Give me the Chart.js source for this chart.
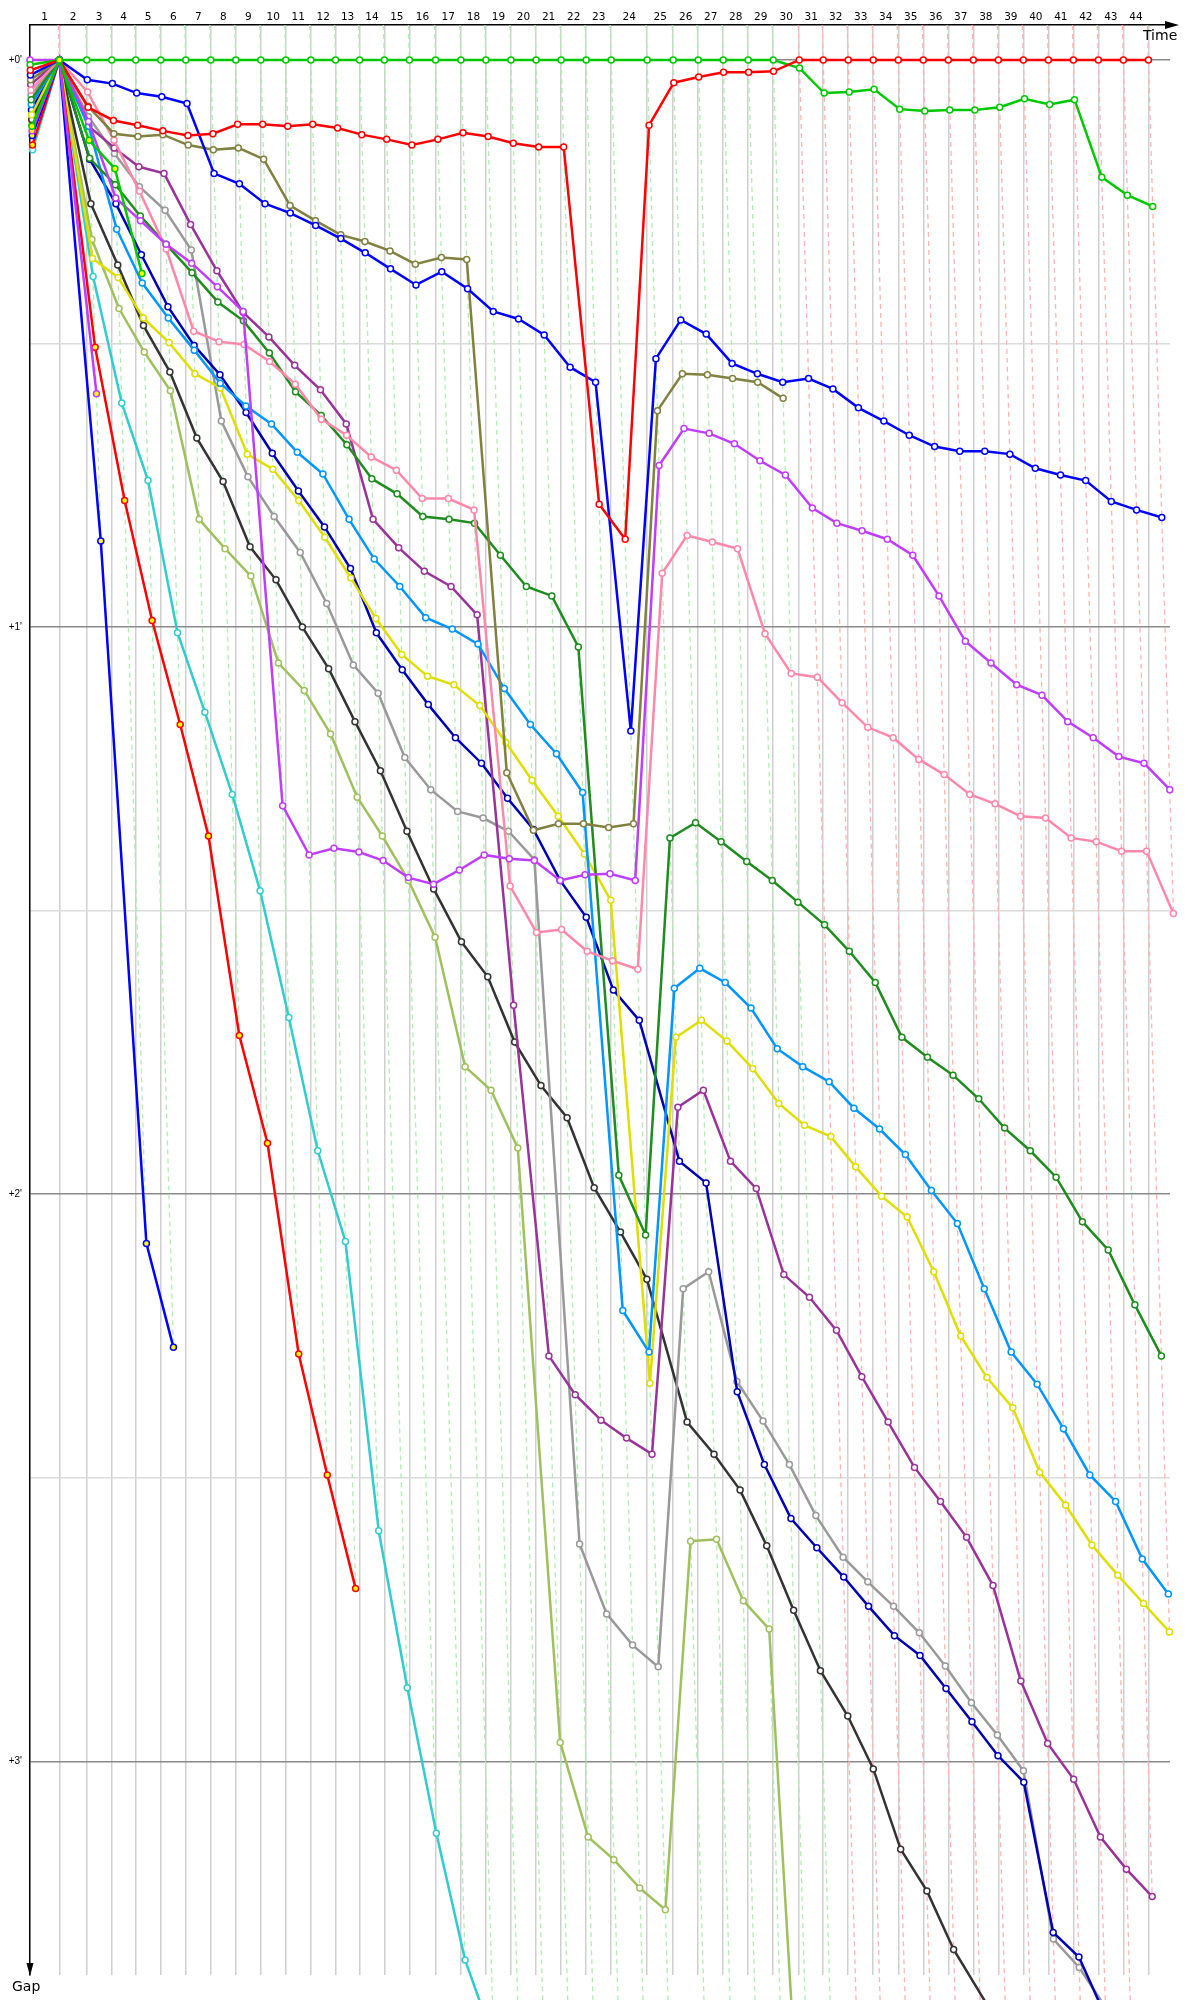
<!DOCTYPE html>
<html lang="en">

<head>
    <meta charset="UTF-8">
    <title>Gap chart</title>
    <script src="https://cdn.jsdelivr.net/npm/chart.js"></script>
    <style>
        body {
            margin: 0;
            background: #fff;
        }

        #chart {
            display: block;
        }
    </style>
</head>

<body>
    <canvas id="chart" width="1200" height="2000"></canvas>
    <script>
        // leader lap times in seconds (lap 1 .. 44)
        const leaderLapTimes = [105.8, 98.9, 90.3, 86.6, 90.3, 90.3, 90.3, 90.3, 90.3, 90.3,
            90.3, 89.5, 86.6, 89.5, 90.3, 94.6, 91.3, 90.3, 90.3, 91.0,
            90.3, 90.3, 90.3, 130.0, 93.9, 90.3, 90.3, 90.3, 90.3, 93.9,
            86.6, 90.3, 90.3, 90.3, 90.3, 90.3, 90.3, 90.3, 90.3, 90.3,
            90.3, 90.3, 90.3, 90.3];

        const lapLabels = ['1', '2', '3', '4', '5', '6', '7', '8', '9', '10', '11', '12', '13', '14', '15',
            '16', '17', '18', '19', '20', '21', '22', '23', '24', '25', '26', '27', '28', '29', '30',
            '31', '32', '33', '34', '35', '36', '37', '38', '39', '40', '41', '42', '43', '44'];

        // who led each lap (colour of the lap line)
        const lapLeader = ['red', 'green', 'green', 'green', 'green', 'green', 'green', 'green', 'green', 'green',
            'green', 'green', 'green', 'green', 'green', 'green', 'green', 'green', 'green', 'green',
            'green', 'green', 'green', 'green', 'green', 'green', 'green', 'green', 'green', 'red',
            'red', 'red', 'red', 'red', 'red', 'red', 'red', 'red', 'red', 'red',
            'red', 'red', 'red', 'red'];

        const gapTicks = [0, 30, 60, 90, 120, 150, 180];
        const gapLabels = ["+0'", '', "+1'", '', "+2'", '', "+3'"];

        // gap to leader in seconds, index 0 = start grid, index n = end of lap n
        const gapLime = [0.5, 0, 0, 0, 0, 0, 0, 0, 0, 0, 0, 0, 0, 0, 0, 0, 0, 0, 0, 0, 0, 0, 0, 0, 0, 0, 0, 0, 0, 0,
            0.85, 3.5, 3.4, 3.1, 5.2, 5.4, 5.3, 5.3, 5.0, 4.1, 4.7, 4.2, 12.4, 14.3, 15.5];
        const gapRed = [1.1, 0, 5.0, 6.4, 6.9, 7.5, 8.0, 7.8, 6.8, 6.8, 7.0,
            6.8, 7.2, 7.9, 8.4, 9.0, 8.4, 7.7, 8.1, 8.8, 9.2,
            9.2, 47.0, 50.7, 6.9, 2.4, 1.8, 1.3, 1.3, 1.2, 0,
            0, 0, 0, 0, 0, 0, 0, 0, 0, 0, 0, 0, 0, 0];
        const gapBlue = [1.6, 0, 2.1, 2.5, 3.5, 3.9, 4.6, 12.0, 13.1, 15.2, 16.2,
            17.5, 18.9, 20.4, 22.1, 23.8, 22.4, 24.2, 26.6, 27.4, 29.1,
            32.5, 34.1, 71.0, 31.6, 27.5, 29.0, 32.1, 33.2, 34.1, 33.7,
            34.8, 36.8, 38.2, 39.7, 40.9, 41.4, 41.4, 41.7, 43.2, 43.9,
            44.5, 46.7, 47.6, 48.4];
        const gapOlive = [2.1, 0, 4.9, 7.8, 8.1, 7.9, 9.0, 9.5, 9.3, 10.5, 15.4,
            17.0, 18.5, 19.2, 20.2, 21.6, 20.9, 21.1, 75.4, 81.5, 80.8,
            80.8, 81.2, 80.8, 37.1, 33.2, 33.3, 33.7, 34.1, 35.8];
        const gapViolet = [0.0, 0, 6.5, 14.6, 17.0, 19.5, 21.5, 24.0, 26.6, 78.9, 84.1,
            83.4, 83.8, 84.7, 86.5, 87.2, 85.7, 84.1, 84.5, 84.7, 86.8,
            86.2, 86.1, 86.8, 42.9, 39.0, 39.5, 40.6, 42.4, 43.9, 47.4,
            49.0, 49.8, 50.7, 52.4, 56.7, 61.5, 63.8, 66.1, 67.2, 70.0,
            71.7, 73.7, 74.4, 77.2];
        const gapPink = [3.2, 0, 3.4, 8.5, 13.9, 20.0, 28.7, 29.8, 30.1, 31.9, 34.3,
            38.0, 39.7, 42.0, 43.4, 46.4, 46.4, 47.6, 87.4, 92.3, 92.0,
            94.3, 95.3, 96.2, 54.3, 50.3, 51.0, 51.7, 60.7, 64.9, 65.3,
            68.0, 70.6, 71.7, 74.0, 75.6, 77.7, 78.7, 80.0, 80.2, 82.3,
            82.7, 83.7, 83.7, 90.3];
        const gapDarkGreen = [4.2, 0, 10.4, 13.2, 16.5, 19.5, 22.5, 25.6, 27.6, 31.0, 35.1,
            37.6, 40.7, 44.3, 45.9, 48.3, 48.6, 49.0, 52.4, 55.7, 56.7,
            62.1, 118.0, 124.3, 82.3, 80.7, 82.7, 84.8, 86.8, 89.1, 91.5,
            94.3, 97.6, 103.4, 105.5, 107.4, 109.9, 113.0, 115.4, 118.2, 122.9,
            125.9, 131.7, 137.1];
        const gapSky = [4.7, 0, 7.0, 17.9, 23.6, 27.3, 30.7, 34.2, 36.6, 38.5, 41.5,
            43.8, 48.6, 52.8, 55.7, 59.0, 60.2, 61.8, 66.5, 70.3, 73.4,
            77.5, 132.3, 136.7, 98.2, 96.1, 97.6, 100.3, 104.6, 106.5, 108.1,
            110.9, 113.1, 115.8, 119.6, 123.1, 130.0, 136.7, 140.1, 144.8, 149.7,
            152.5, 158.6, 162.3];
        const gapYellow = [5.8, 0, 21.0, 23.0, 27.3, 29.9, 33.2, 34.7, 41.7, 43.3, 46.6,
            50.5, 54.8, 59.1, 62.9, 65.2, 66.1, 68.3, 72.2, 76.2, 80.0,
            84.0, 88.9, 140.0, 103.4, 101.6, 103.8, 106.7, 110.4, 112.7, 113.9,
            117.1, 120.2, 122.4, 128.2, 135.0, 139.4, 142.6, 149.4, 152.9, 157.1,
            160.3, 163.3, 166.3];
        const gapPurple = [2.6, 0, 7.0, 9.3, 11.3, 12.0, 17.4, 22.3, 26.7, 29.3, 32.3,
            34.9, 38.5, 48.6, 51.6, 54.1, 55.7, 58.7, 100.0, 137.1, 141.2,
            143.9, 145.8, 147.5, 110.8, 109.0, 116.5, 119.4, 128.5, 130.9, 134.4,
            139.3, 144.1, 148.9, 152.5, 156.3, 161.4, 171.5, 178.1, 181.9, 188.0,
            191.4, 194.3];
        const gapNavy = [5.3, 0, 10.5, 15.2, 20.6, 26.1, 30.2, 33.3, 37.3, 41.6, 45.6,
            49.4, 53.8, 60.6, 64.5, 68.2, 71.7, 74.4, 78.1, 81.4, 86.8,
            90.7, 98.4, 101.6, 116.5, 118.8, 140.9, 148.6, 154.3, 157.4, 160.5,
            163.6, 166.7, 168.8, 172.3, 175.8, 179.4, 182.2, 198.1, 200.7, 207.0,
            212.0];
        const gapGrey = [3.7, 0, 6.0, 9.9, 13.4, 15.9, 20.1, 38.2, 44.1, 48.3, 52.1,
            57.5, 64.0, 67.0, 73.8, 77.2, 79.5, 80.2, 81.6, 84.6, 157.0,
            164.4, 167.7, 170.0, 130.0, 128.2, 139.8, 144.0, 148.6, 154.0, 158.4,
            161.0, 163.6, 166.4, 169.9, 173.8, 177.2, 181.0, 198.8, 201.8, 206.0];
        const gapBlack = [6.3, 0, 15.2, 21.7, 28.1, 33.0, 40.0, 44.6, 51.5, 55.0, 60.0,
            64.4, 70.0, 75.2, 81.6, 87.7, 93.3, 97.0, 103.9, 108.5, 111.9,
            119.3, 124.0, 129.0, 144.1, 147.5, 151.3, 157.2, 164.0, 170.4, 175.2,
            180.8, 189.3, 193.7, 199.9, 204.5, 209.0];
        const gapOliveGreen = [6.8, 0, 19.0, 26.3, 30.9, 35.0, 48.6, 51.7, 54.6, 63.8, 66.7,
            71.3, 78.0, 82.1, 86.8, 92.8, 106.5, 109.0, 115.1, 178.0, 188.0,
            190.4, 193.4, 195.7, 156.7, 156.5, 163.0, 166.0, 254.0, 262.0, 270.0,
            278.0, 285.0, 292.0, 300.0, 307.0, 314.0, 321.0, 328.0, 335.0, 342.0,
            349.0];
        const gapCyan = [9.5, 0, 22.9, 36.3, 44.5, 60.6, 69.0, 77.7, 87.9, 101.3, 115.4,
            125.0, 155.6, 172.2, 187.6, 201.0, 209.5, 222.0, 235.0, 248.0, 261.0,
            274.0, 287.0, 300.0, 313.0, 326.0, 339.0, 352.0];
        // retired cars
        const gapRedOut = [9.0, 0, 30.4, 46.6, 59.3, 70.3, 82.1, 103.2, 114.6, 136.9, 149.7, 161.7];
        const gapBlueOut = [8.0, 0, 50.9, 125.2, 136.2];
        const gapVioletOut = [7.5, 0, 35.3];
        const gapLimeOut = [7.0, 0, 8.5, 11.5, 22.6];

        const series = [
            { gaps: gapLimeOut, color: '#00c800', out: true },
            { gaps: gapVioletOut, color: '#c03cff', out: true },
            { gaps: gapBlueOut, color: '#0000ff', out: true },
            { gaps: gapRedOut, color: '#ff0000', out: true },
            { gaps: gapRed, color: '#ff0000' },
            { gaps: gapLime, color: '#00c800' },
            { gaps: gapBlue, color: '#0000ff' },
            { gaps: gapOlive, color: '#808040' },
            { gaps: gapViolet, color: '#c03cff' },
            { gaps: gapPink, color: '#ff88aa' },
            { gaps: gapDarkGreen, color: '#1e8c1e' },
            { gaps: gapSky, color: '#0096ff' },
            { gaps: gapYellow, color: '#dede00' },
            { gaps: gapPurple, color: '#993399' },
            { gaps: gapNavy, color: '#0000b4' },
            { gaps: gapGrey, color: '#999999' },
            { gaps: gapBlack, color: '#333333' },
            { gaps: gapOliveGreen, color: '#a0c060' },
            { gaps: gapCyan, color: '#33cccc' }
        ];

        const GAP_MIN = -3.7;
        const GAP_MAX = 202.6;
        const TIME_MAX = 4115.5;

        // leader time at end of every lap
        const lapEnd = [0];
        leaderLapTimes.forEach((t, i) => lapEnd.push(lapEnd[i] + t));

        // x = time the car crossed the line, y = its gap
        function toPoints(gaps) {
            return gaps.map((g, i) => ({ x: lapEnd[i] + g, y: g }));
        }

        const datasets = [];
        series.forEach(s => {
            datasets.push({
                data: toPoints(s.gaps),
                borderColor: s.color,
                borderWidth: 2.5,
                pointRadius: 3,
                pointBorderWidth: 1.5,
                pointBorderColor: s.color,
                pointBackgroundColor: s.out ? '#ffff00' : '#ffffff',
                showLine: true,
                clip: false,
                order: 1
            });
        });

        // dashed lap lines, from the axis down to the last car of that lap
        for (let n = 1; n <= leaderLapTimes.length; n++) {
            let worst = 0;
            series.forEach(s => {
                if (s.gaps.length > n && s.gaps[n] > worst) worst = s.gaps[n];
            });
            datasets.push({
                data: [{ x: lapEnd[n] + GAP_MIN, y: GAP_MIN }, { x: lapEnd[n] + worst, y: worst }],
                borderColor: lapLeader[n - 1] === 'red' ? '#ffb4b4' : '#b4ecb4',
                borderWidth: 1.3,
                borderDash: [5, 4],
                pointRadius: 0,
                showLine: true,
                clip: false,
                order: 50
            });
        }

        // ticks on the time axis: label in the middle of a lap, grid line at its end
        const timeTicks = [];
        for (let n = 1; n <= leaderLapTimes.length; n++) {
            timeTicks.push((lapEnd[n - 1] + lapEnd[n]) / 2);
            timeTicks.push(lapEnd[n]);
        }

        const arrows = {
            id: 'arrows',
            afterDraw(chart) {
                const ctx = chart.ctx;
                const a = chart.chartArea;
                ctx.save();
                ctx.fillStyle = '#000';
                ctx.strokeStyle = '#000';
                ctx.lineWidth = 1.5;
                ctx.beginPath();
                ctx.moveTo(a.right - 1, a.top);
                ctx.lineTo(a.right + 2, a.top);
                ctx.stroke();
                ctx.beginPath();
                ctx.moveTo(a.right - 5, a.top - 4);
                ctx.lineTo(a.right + 9, a.top);
                ctx.lineTo(a.right - 5, a.top + 4);
                ctx.closePath();
                ctx.fill();
                ctx.beginPath();
                ctx.moveTo(a.left - 3.5, a.bottom - 12);
                ctx.lineTo(a.left, a.bottom + 1);
                ctx.lineTo(a.left + 3.5, a.bottom - 12);
                ctx.closePath();
                ctx.fill();
                ctx.font = '14px "DejaVu Sans"';
                ctx.textBaseline = 'alphabetic';
                ctx.fillText('Time', 1143, 40);
                ctx.fillText('Gap', 12, 1991);
                ctx.restore();
            }
        };

        new Chart(document.getElementById('chart'), {
            type: 'scatter',
            data: { datasets: datasets },
            options: {
                responsive: false,
                devicePixelRatio: 1,
                animation: false,
                layout: { padding: { left: 0, top: 0, right: 30, bottom: 25 } },
                plugins: {
                    legend: { display: false },
                    tooltip: { enabled: false }
                },
                scales: {
                    x: {
                        type: 'linear',
                        position: 'top',
                        min: 0,
                        max: TIME_MAX,
                        afterBuildTicks: scale => { scale.ticks = timeTicks.map(v => ({ value: v })); },
                        afterFit: scale => { scale.height = 25; },
                        ticks: {
                            autoSkip: false,
                            maxRotation: 0,
                            padding: 1,
                            color: '#000',
                            font: { family: 'DejaVu Sans', size: 10.5 },
                            callback: (v, i) => i % 2 === 0 ? lapLabels[i / 2] : ''
                        },
                        grid: {
                            drawTicks: false,
                            lineWidth: 1.5,
                            color: c => c.index % 2 === 1 ? '#cfcfcf' : 'rgba(0,0,0,0)'
                        },
                        border: { color: '#000', width: 1.5 }
                    },
                    y: {
                        type: 'linear',
                        reverse: true,
                        min: GAP_MIN,
                        max: GAP_MAX,
                        afterBuildTicks: scale => { scale.ticks = gapTicks.map(v => ({ value: v })); },
                        afterFit: scale => { scale.width = 30; },
                        ticks: {
                            padding: 8,
                            color: '#000',
                            font: { family: 'Liberation Sans', size: 10 },
                            callback: (v, i) => gapLabels[i]
                        },
                        grid: {
                            drawTicks: false,
                            lineWidth: 1.5,
                            color: c => c.index % 2 === 0 ? '#8a8a8a' : '#dcdcdc'
                        },
                        border: { color: '#000', width: 1.5 }
                    }
                }
            },
            plugins: [arrows]
        });
    </script>
</body>

</html>
